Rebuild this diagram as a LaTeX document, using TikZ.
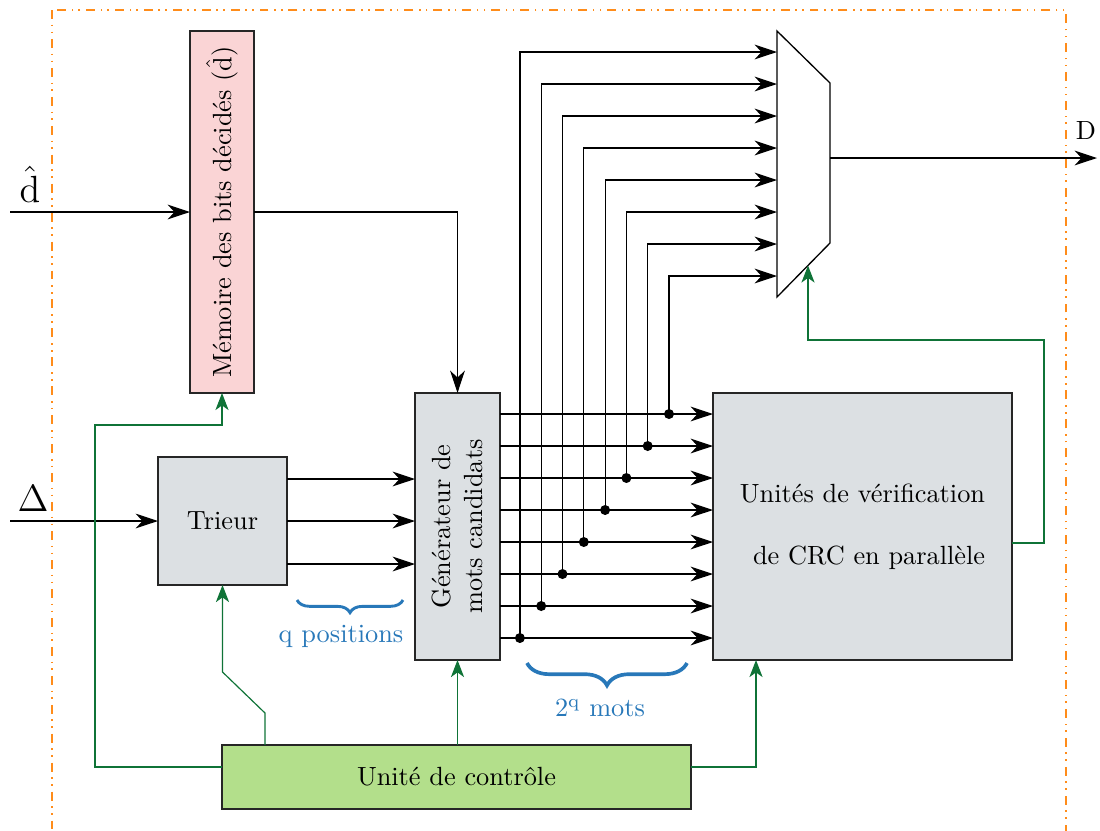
\documentclass[tikz,border=0pt]{standalone}
\usetikzlibrary{arrows.meta,decorations.pathreplacing,calc}
\definecolor{pinkfill}{RGB}{250,212,213}
\definecolor{grayfill}{RGB}{220,224,227}
\definecolor{greenfill}{RGB}{179,223,139}
\definecolor{bluec}{RGB}{40,120,185}
\definecolor{orangec}{RGB}{255,140,26}
\definecolor{greenc}{RGB}{15,115,55}
\def\px{0.38pt}
\begin{document}
\begin{tikzpicture}[x=0.38pt,y=-0.38pt,
  box/.style={draw=black!85, line width=0.5pt, inner sep=0pt, outer sep=0pt},
  arr/.style={-{Stealth[length=8.5pt,width=5.6pt,inset=2.6pt]}, line width=0.45pt},
  garr/.style={draw=greenc, line width=0.45pt, -{Stealth[length=6.5pt,width=5pt,inset=1.8pt]}},
  bracedeco/.style={draw=bluec, decorate, decoration={brace, mirror, amplitude=#1}},
  bluetext/.style={text=bluec},
  frame/.style={draw=orangec, line width=0.8pt, dash pattern=on 3.4pt off 2.2pt on 0.6pt off 2pt on 0.6pt off 2.2pt}
]
\path[use as bounding box] (0,0) rectangle (1100,830);
\clip (0,0) rectangle (1100,830);

% outer frame
\draw[frame] (52,10) rectangle (1066,870);

% boxes
\node[box, fill=pinkfill, minimum width=64*\px, minimum height=362*\px] (mem) at (222,212) {};
\node[rotate=90] (memt) at (mem.center) {Mémoire des bits décidés ($\hat{\mathrm{d}}$)};
\node[box, fill=grayfill, minimum width=129*\px, minimum height=128*\px] (tri) at (222.5,521) {Trieur};
\node[box, fill=grayfill, minimum width=85*\px, minimum height=267*\px] (gen) at (457.5,526.5) {};
\node[rotate=90, align=center] (gent) at (gen.center) {Générateur de\\mots candidats};
\node[box, fill=grayfill, minimum width=299*\px, minimum height=267*\px] (crc) at (862.5,526.5) {};
\node[align=center] (crct) at (crc.center) {Unités de vérification\\[11.5pt]\hspace*{0.5em}de CRC en parallèle};
\node[box, fill=greenfill, minimum width=469*\px, minimum height=64*\px] (ctrl) at (456.5,777) {Unité de contrôle};

% multiplexer
\draw[line width=0.5pt] (777,31) coordinate (mtl) -- (830,83) -- (830,243) -- (777,297) coordinate (mbl) -- cycle;
\coordinate (mout) at (830,158);
\coordinate (mctl) at (808,265.5);

% inputs
\node[font=\Large] (dhat) at (30,184) {$\hat{\mathrm{d}}$};
\coordinate (din) at (10,212);
\draw[arr] (din) -- (mem.west);
\node[font=\Large] (delta) at (33,499) {$\Delta$};
\coordinate (delin) at (10,521);
\draw[arr] (delin) -- (tri.west);

% memory to generator
\draw[arr] (mem.east) -| (gen.north);

% trieur to generator
\draw[arr] (tri.east |- 0,479) -- (gen.west |- 0,479);
\draw[arr] (tri.east) -- (gen.west |- tri.east);
\draw[arr] (tri.east |- 0,564) -- (gen.west |- 0,564);

% generator to CRC and mux
\foreach \i in {0,...,7} {
  \pgfmathsetmacro\yy{414+32*\i}
  \pgfmathsetmacro\xx{669-21.3*\i}
  \pgfmathsetmacro\ym{276-32*\i}
  \coordinate (m\i) at (777,\ym);
  \coordinate (d\i) at (\xx,\yy);
  \draw[arr] (gen.east |- d\i) -- (crc.west |- d\i);
  \fill (d\i) circle (1.9pt);
  \draw[arr] (d\i) |- (m\i);
}

% output
\coordinate (dout) at (1097,158);
\draw[arr] (mout) -- (dout);
\node (dlab) at (1086,130) {D};

% control connections
\draw[garr] (crc.east |- 0,543) -- (1044,543) -- (1044,340) -| (mctl);
\draw[garr] (ctrl.north -| 265,0) -- (265,713) -- (222.5,672) -- (tri.south);
\draw[garr] (ctrl.west |- 0,767) -- (95,767) -- (95,425) -| (mem.south);
\draw[garr] (ctrl.north -| gen.south) -- (gen.south);
\draw[garr] (ctrl.east |- 0,767) -| (crc.south -| 756,0);

% braces
\draw[bracedeco=4.8pt, line width=1.1pt] (297,600) -- (403,600);
\node[bluetext] (qpos) at (341,636) {q positions};
\draw[bracedeco=8.5pt, line width=1.4pt] (527,663) -- (687,663);
\node[bluetext] (mots) at (600,708) {$2^{\mathrm{q}}$ mots};
\end{tikzpicture}
\end{document}
